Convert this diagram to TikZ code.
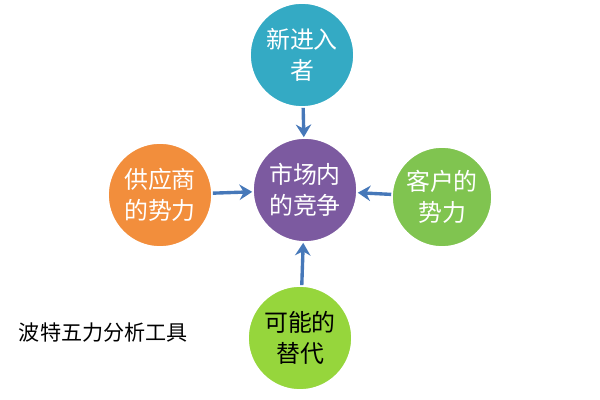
\documentclass[tikz,border=0pt]{standalone}
\usepackage{fontspec}
\newfontfamily\cjk{Noto Sans CJK SC}
\usetikzlibrary{arrows.meta}
\definecolor{teal1}{RGB}{52,170,196}
\definecolor{purple1}{RGB}{124,90,160}
\definecolor{orange1}{RGB}{242,142,60}
\definecolor{green1}{RGB}{128,196,80}
\definecolor{lime1}{RGB}{150,214,60}
\definecolor{arrowblue}{RGB}{70,120,185}
\tikzset{
  force/.style={circle, minimum size=2.6cm, draw=white, line width=1.2pt,
    text=white, align=center, font=\cjk\fontsize{17}{22}\selectfont, inner sep=0pt},
  push/.style={-{Stealth[length=9pt,width=11pt,inset=3pt]}, arrowblue, line width=2.4pt}
}
\begin{document}
\begin{tikzpicture}[x=0.025cm,y=-0.025cm]
  \useasboundingbox (0,0) rectangle (600,400);
  \node[force, fill=purple1] (mid) at (305,190) {市场内\\的竞争};
  \node[force, fill=teal1] (top) at (302,55) {新进入\\者};
  \node[force, fill=orange1] (left) at (160,195) {供应商\\的势力};
  \node[force, fill=green1, minimum size=2.5cm] (right) at (442,197) {客户的\\势力};
  \node[force, fill=lime1, text=black] (bot) at (300,338) {可能的\\替代};
  \draw[push] (top) -- (mid);
  \draw[push] (left) -- (mid);
  \draw[push] (right) -- (mid);
  \draw[push] (bot) -- (mid);
  \node[anchor=west, font=\cjk\fontsize{15}{18}\selectfont] (title) at (14,333) {波特五力分析工具};
\end{tikzpicture}
\end{document}
